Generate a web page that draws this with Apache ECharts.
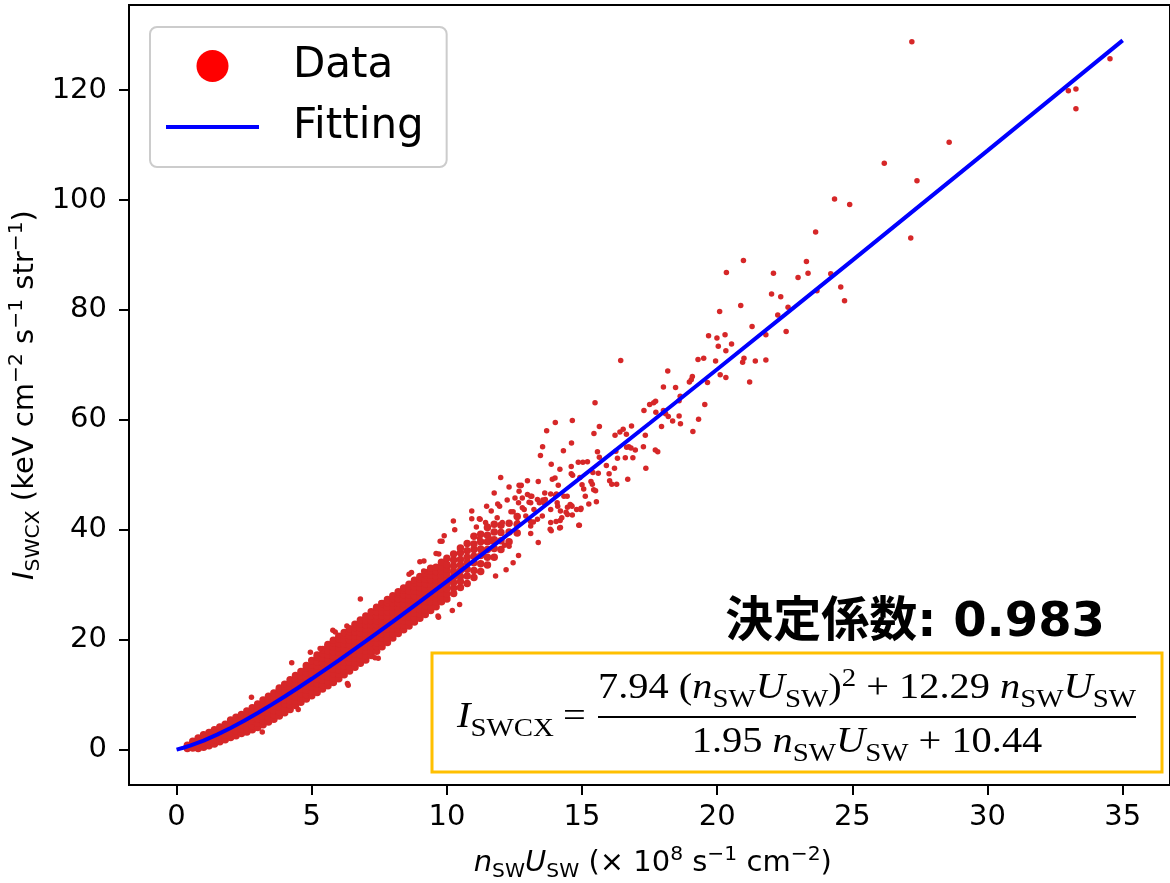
<!DOCTYPE html>
<html>
<head>
<meta charset="utf-8">
<script src="https://cdn.jsdelivr.net/npm/echarts@6/dist/echarts.min.js"></script>
<style>
  html, body { margin: 0; padding: 0; background: #ffffff; }
  #chart { width: 1170px; height: 883px; }
</style>
</head>
<body>
<div id="chart"></div>
<script>
// ---- axis ticks ----
const xTicks = [0, 5, 10, 15, 20, 25, 30, 35];
const yTicks = [0, 20, 40, 60, 80, 100, 120];

// ---- fitted curve, sampled along n_SW U_SW ----
const fitX = [0, 0.25, 0.5, 1, 1.5, 2, 2.5, 3, 3.5, 4, 4.5, 5, 6, 7, 8, 9, 10, 11, 12, 13, 15, 17.5, 20, 22.5, 25, 30, 35];
const fitY = [0, 0.33, 0.71, 1.63, 2.72, 3.93, 5.25, 6.65, 8.13, 9.66, 11.25, 12.88, 16.24, 19.72, 23.29, 26.93, 30.62, 34.37, 38.15, 41.96, 49.66, 59.39, 69.21, 79.10, 89.03, 109.0, 129.07];

// ---- dense core of the measurements, column by column: [x, [y, ...]] ----
const coreColumns = [
  [0.4, [0.2, 0.8]],
  [0.6, [0.3, 1.0, 1.5]],
  [0.8, [0.2, 1.0, 1.8, 2.1]],
  [1.0, [0.4, 1.2, 2.0, 2.7]],
  [1.2, [0.7, 1.5, 2.3, 3.1]],
  [1.4, [1.0, 1.8, 2.6, 3.4, 3.6]],
  [1.6, [1.4, 2.2, 3.0, 3.8, 4.1]],
  [1.8, [1.8, 2.6, 3.4, 4.2, 4.6]],
  [2.0, [2.2, 3.0, 3.8, 4.6, 5.4]],
  [2.2, [2.5, 3.4, 4.2, 5.0, 5.9]],
  [2.4, [2.9, 3.7, 4.5, 5.3, 6.1, 6.4]],
  [2.6, [3.2, 4.0, 4.8, 5.6, 6.4, 7.0]],
  [2.8, [3.6, 4.4, 5.2, 6.0, 6.8, 7.6]],
  [3.0, [4.0, 4.8, 5.6, 6.4, 7.2, 8.0, 8.3]],
  [3.2, [4.5, 5.3, 6.1, 6.9, 7.7, 8.5, 9.0]],
  [3.4, [5.0, 5.8, 6.6, 7.4, 8.2, 9.0, 9.7]],
  [3.6, [5.5, 6.3, 7.1, 7.9, 8.7, 9.5, 10.3]],
  [3.8, [6.1, 6.9, 7.7, 8.5, 9.3, 10.1, 10.9, 11.2]],
  [4.0, [6.7, 7.5, 8.3, 9.1, 9.9, 10.7, 11.5, 11.9]],
  [4.2, [7.3, 8.1, 8.9, 9.7, 10.5, 11.3, 12.1, 12.7]],
  [4.4, [8.0, 8.8, 9.6, 10.4, 11.2, 12.0, 12.8, 13.5]],
  [4.6, [8.6, 9.4, 10.2, 11.0, 11.8, 12.6, 13.4, 14.2]],
  [4.8, [9.2, 10.0, 10.8, 11.6, 12.4, 13.2, 14.0, 14.8, 15.3]],
  [5.0, [9.8, 10.6, 11.4, 12.2, 13.0, 13.8, 14.6, 15.4, 16.2]],
  [5.2, [10.4, 11.2, 12.0, 12.8, 13.6, 14.4, 15.2, 16.0, 16.8, 17.2]],
  [5.4, [11.0, 11.8, 12.6, 13.4, 14.2, 15.0, 15.8, 16.6, 17.4, 18.2]],
  [5.6, [11.6, 12.4, 13.2, 14.0, 14.8, 15.6, 16.4, 17.2, 18.0, 18.8, 19.1]],
  [5.8, [12.2, 13.0, 13.8, 14.6, 15.4, 16.2, 17.0, 17.8, 18.6, 19.4, 19.9]],
  [6.0, [12.9, 13.7, 14.5, 15.3, 16.1, 16.9, 17.7, 18.5, 19.3, 20.1, 20.6]],
  [6.2, [13.6, 14.4, 15.2, 16.0, 16.8, 17.6, 18.4, 19.2, 20.0, 20.8, 21.3]],
  [6.4, [14.3, 15.1, 15.9, 16.7, 17.5, 18.3, 19.1, 19.9, 20.7, 21.5, 22.0]],
  [6.6, [15.0, 15.8, 16.6, 17.4, 18.2, 19.0, 19.8, 20.6, 21.4, 22.2, 22.8]],
  [6.8, [15.7, 16.5, 17.3, 18.1, 18.9, 19.7, 20.5, 21.3, 22.1, 22.9, 23.6]],
  [7.0, [16.3, 17.1, 17.9, 18.7, 19.5, 20.3, 21.1, 21.9, 22.7, 23.5, 24.3]],
  [7.2, [17.1, 17.9, 18.7, 19.5, 20.3, 21.1, 21.9, 22.7, 23.5, 24.3, 25.1]],
  [7.4, [17.9, 18.7, 19.5, 20.3, 21.1, 21.9, 22.7, 23.5, 24.3, 25.1, 25.9]],
  [7.6, [18.7, 19.5, 20.3, 21.1, 21.9, 22.7, 23.5, 24.3, 25.1, 25.9, 26.6]],
  [7.8, [19.5, 20.3, 21.1, 21.9, 22.7, 23.5, 24.3, 25.1, 25.9, 26.7, 27.3]],
  [8.0, [20.3, 21.1, 21.9, 22.7, 23.5, 24.3, 25.1, 25.9, 26.7, 27.5, 28.0]],
  [8.2, [21.1, 21.9, 22.7, 23.5, 24.3, 25.1, 25.9, 26.7, 27.5, 28.3, 28.7]],
  [8.4, [21.8, 22.6, 23.4, 24.2, 25.0, 25.8, 26.6, 27.4, 28.2, 29.0, 29.4]],
  [8.6, [22.5, 23.3, 24.1, 24.9, 25.7, 26.5, 27.3, 28.1, 28.9, 29.7, 30.1]],
  [8.8, [23.2, 24.0, 24.8, 25.6, 26.4, 27.2, 28.0, 28.8, 29.6, 30.4, 30.8]],
  [9.0, [23.9, 24.7, 25.5, 26.3, 27.1, 27.9, 28.7, 29.5, 30.3, 31.1, 31.5]],
  [9.2, [24.6, 25.4, 26.2, 27.0, 27.8, 28.6, 29.4, 30.2, 31.0, 31.8, 32.2]],
  [9.4, [25.3, 26.1, 26.9, 27.7, 28.5, 29.3, 30.1, 30.9, 31.7, 32.5, 33.0]],
  [9.6, [26.0, 26.8, 27.6, 28.4, 29.2, 30.0, 30.8, 31.6, 32.4, 33.2]],
  [9.8, [26.9, 27.7, 28.5, 29.3, 30.1, 30.9, 31.7, 32.5, 33.3, 34.1]],
  [10.0, [27.4, 28.3, 29.2, 30.1, 31.0, 31.9, 32.8, 33.7, 34.8]],
  [10.25, [28.4, 29.4, 30.4, 31.4, 32.4, 33.4, 34.5, 35.6]],
  [10.5, [29.5, 30.6, 31.5, 32.6, 33.6, 34.6, 35.8, 36.7]],
  [10.75, [30.2, 31.6, 32.8, 34.0, 35.0, 36.2, 37.5]],
  [11.0, [31.3, 32.6, 34.0, 35.2, 36.4, 37.4, 38.8]],
  [11.25, [32.4, 33.8, 35.3, 36.5, 37.8, 39.2]],
  [11.5, [33.6, 35.0, 36.4, 37.8, 39.0, 40.4]],
  [11.75, [35.0, 36.6, 38.2, 39.6, 41.0]],
  [12.0, [36.4, 38.0, 39.5, 40.8]],
  [12.3, [37.8, 39.6, 41.2]],
  [12.6, [39.4, 41.0, 42.4]]
];

// ---- individually visible measurements: [x, y] ----
const spreadPoints = [
  [2.77, 9.5], [4.26, 15.8], [4.95, 17.7], [5.31, 18.4], [5.78, 21.7], [5.87, 21.4], [6.3, 22.5],
  [6.32, 12.0], [6.35, 11.7], [4.5, 7.3], [3.17, 3.2], [7.46, 16.6], [7.34, 16.7], [9.69, 24.1],
  [6.8, 27.4], [7.56, 26.7], [8.69, 32.2], [8.6, 31.9], [9.0, 34.2], [9.15, 34.3], [9.14, 32.5],
  [9.6, 35.7], [9.7, 35.6], [9.9, 38.9], [9.82, 37.9], [9.75, 37.9],
  [10.2, 25.3], [10.47, 26.4], [9.67, 24.3],
  [10.24, 41.6], [10.29, 40.0], [10.92, 43.4], [10.92, 42.0], [11.09, 40.5], [11.23, 41.9], [11.2, 42.0],
  [11.43, 41.3], [11.5, 40.7], [11.86, 42.2], [12.05, 41.3], [11.21, 38.4], [11.24, 37.9],
  [11.63, 38.3], [11.66, 37.8], [12.13, 37.2], [12.3, 37.0], [12.65, 35.3], [12.19, 32.7], [12.45, 34.0], [11.8, 31.6],
  [11.99, 49.5], [11.75, 46.7], [11.88, 44.7], [11.95, 44.3], [11.47, 44.3], [11.64, 43.4],
  [12.3, 47.8], [12.67, 48.1], [12.75, 48.1], [12.67, 47.0], [12.98, 46.4], [13.14, 46.1], [12.52, 45.8],
  [12.23, 45.4], [12.37, 43.3], [12.45, 43.3], [12.65, 44.9], [12.79, 44.0], [13.04, 45.0], [13.1, 44.9],
  [13.42, 44.9], [13.62, 46.7], [14.05, 46.5], [12.73, 48.0], [13.1, 46.1], [12.86, 43.7], [13.22, 43.7],
  [13.59, 44.9], [13.84, 43.7], [13.35, 41.9], [13.1, 40.7], [13.84, 41.3], [13.53, 42.5], [14.08, 44.9],
  [14.2, 43.4], [14.6, 44.4], [15.06, 47.4], [15.12, 46.1], [14.45, 46.1], [13.35, 45.5], [12.79, 45.8],
  [12.61, 41.3], [12.92, 42.5], [14.56, 44.6], [14.63, 44.3], [14.1, 44.3], [14.41, 43.2], [14.46, 42.8],
  [14.96, 43.9], [14.19, 41.7], [14.17, 40.3], [14.88, 40.8], [13.82, 40.1], [13.86, 39.8], [13.38, 37.7],
  [13.1, 39.3], [13.09, 41.5], [13.2, 41.4], [13.9, 49.2], [14.0, 49.4],
  [12.98, 48.9], [13.38, 48.8], [13.64, 45.5], [13.55, 45.4],
  [14.12, 48.1], [13.84, 46.5], [14.02, 46.3], [14.33, 46.1], [14.46, 44.1], [14.8, 43.7], [14.95, 43.7],
  [15.25, 44.7], [15.53, 45.1], [14.9, 40.8], [14.64, 42.7], [14.25, 42.2], [14.04, 41.5], [14.2, 40.4],
  [13.86, 51.9], [14.18, 51.0], [14.6, 51.5], [14.86, 52.3], [15.03, 52.3], [15.2, 52.4], [15.4, 50.4],
  [15.6, 50.3], [14.6, 50.2], [14.65, 49.9], [14.92, 49.5], [15.33, 48.8], [15.38, 48.3], [15.43, 47.3],
  [15.5, 47.1], [15.0, 48.2], [16.02, 48.9], [16.1, 48.3], [16.28, 48.3], [16.69, 49.2],
  [17.36, 51.2], [16.2, 51.2], [16.0, 50.2], [15.9, 51.7],
  [14.61, 55.8], [14.31, 54.4], [13.54, 55.1], [13.46, 53.5], [15.57, 54.2], [15.64, 53.2], [16.25, 54.3],
  [16.31, 53.0], [16.65, 55.0], [16.73, 55.1], [16.81, 54.9], [16.97, 54.5], [16.6, 53.1], [16.88, 53.1],
  [17.27, 55.1], [17.71, 54.5], [17.8, 54.2],
  [15.48, 63.1], [16.83, 58.9], [16.52, 58.3], [16.4, 57.8], [16.22, 57.2], [16.64, 57.4], [17.34, 57.2],
  [15.44, 57.5], [15.64, 58.8], [14.64, 59.9], [14.01, 59.5], [13.69, 58.0],
  [16.43, 70.8], [18.17, 68.9], [19.08, 67.9], [18.97, 66.9], [19.04, 67.3], [19.64, 66.8], [20.11, 68.2],
  [20.32, 67.7], [21.2, 66.9], [18.01, 66.0], [18.46, 65.9], [18.63, 64.3], [18.59, 63.5], [17.72, 63.4],
  [17.65, 63.1], [17.5, 62.8], [17.29, 61.7], [18.01, 61.7], [17.73, 61.4], [18.06, 61.4], [18.09, 61.1],
  [18.19, 60.6], [18.59, 60.7], [18.35, 59.8], [18.64, 59.3], [17.94, 58.8], [19.54, 62.8], [19.31, 60.1],
  [19.1, 57.9],
  [19.29, 71.0], [19.5, 71.2], [19.94, 70.7], [20.99, 71.2], [20.94, 70.5], [21.41, 70.7], [21.8, 70.9],
  [20.04, 73.4], [20.53, 73.8], [20.32, 72.6], [19.68, 75.3], [19.99, 74.9], [20.29, 75.5],
  [21.29, 77.0], [22.55, 76.1], [21.8, 75.5], [20.09, 79.7], [22.24, 79.1], [20.87, 80.8], [22.62, 80.5],
  [22.01, 82.9], [22.35, 82.4], [23.69, 83.5], [24.57, 84.2], [24.71, 81.7],
  [20.97, 89.0], [20.34, 86.8], [22.08, 86.7], [23.3, 88.8], [23.36, 86.7], [22.99, 85.9], [24.2, 86.6],
  [23.64, 94.2], [27.16, 93.1], [24.34, 100.2], [24.9, 99.2], [26.18, 106.7], [27.39, 103.5],
  [28.58, 110.5], [27.2, 128.8], [34.53, 125.7], [32.99, 119.9], [33.27, 120.2], [33.27, 116.6]
];

const coreData = coreColumns.flatMap(([x, ys]) => ys.map(y => [x, y]));
const fitData = fitX.map((x, i) => [x, fitY[i]]);

// ---- text layout helpers for sub/superscripted labels ----
const measureCtx = document.createElement('canvas').getContext('2d');
function textWidth(font, s) {
  measureCtx.font = font;
  measureCtx.textBaseline = 'alphabetic';
  return measureCtx.measureText(s).width;
}
// distance from the 'middle' line down to the alphabetic baseline
function middleToBaseline(font) {
  measureCtx.font = font;
  measureCtx.textBaseline = 'middle';
  const d = measureCtx.measureText('H').actualBoundingBoxDescent;
  measureCtx.textBaseline = 'alphabetic';
  return d;
}
// runs: [text, font, baselineShift]; returns children laid out from x = 0
function layoutRuns(runs, baseline, z) {
  let x = 0;
  const children = [];
  runs.forEach(([t, font, shift]) => {
    const w = textWidth(font, t);
    children.push({
      type: 'text',
      x: x,
      y: baseline + (shift || 0) - middleToBaseline(font),
      z: z || 0,
      silent: true,
      style: {
        text: t, font: font, fill: '#000000',
        align: 'left', verticalAlign: 'middle',
        textAlign: 'left', textVerticalAlign: 'middle'
      }
    });
    x += w;
  });
  return { children, width: x };
}

const SANS = '"DejaVu Sans"';
const F_MAIN = '29px ' + SANS;
const F_IT = 'italic 29px ' + SANS;
const F_SMALL = '20.3px ' + SANS;
const SUB = 6, SUP = -11;

// y-axis title (rotated)
const yTitle = layoutRuns([
  ['I', F_IT], ['SWCX', F_SMALL, SUB], [' (keV cm', F_MAIN], ['\u22122', F_SMALL, SUP],
  [' s', F_MAIN], ['\u22121', F_SMALL, SUP], [' str', F_MAIN], ['\u22121', F_SMALL, SUP], [')', F_MAIN]
], 0);
yTitle.children.forEach(c => { c.x -= yTitle.width / 2; });

// x-axis title
const xTitle = layoutRuns([
  ['n', F_IT], ['SW', F_SMALL, SUB], ['U', F_IT], ['SW', F_SMALL, SUB], [' (\u00d7 10', F_MAIN],
  ['8', F_SMALL, SUP], [' s', F_MAIN], ['\u22121', F_SMALL, SUP], [' cm', F_MAIN], ['\u22122', F_SMALL, SUP], [')', F_MAIN]
], 871);

// coefficient of determination
const F_R2 = 'bold 48px "DejaVu Sans", "Noto Sans CJK JP"';
const r2Text = layoutRuns([['決定係数: 0.983', F_R2]], 636);

// fitted formula
const SERIF = '"Liberation Serif", "DejaVu Serif", serif';
const M_R = '35px ' + SERIF, M_I = 'italic 35px ' + SERIF, M_S = '25px ' + SERIF;
const FZ = 12;
const numer = layoutRuns([
  ['7.94 ', M_R], ['(', M_R], ['n', M_I], ['SW', M_S, 9], ['U', M_I], ['SW', M_S, 9], [')', M_R],
  ['2', M_S, -12], [' + 12.29 ', M_R], ['n', M_I], ['SW', M_S, 9], ['U', M_I], ['SW', M_S, 9]
], 698, FZ);
const denom = layoutRuns([
  ['1.95 ', M_R], ['n', M_I], ['SW', M_S, 9], ['U', M_I], ['SW', M_S, 9], [' + 10.44', M_R]
], 752, FZ);
const lhs = layoutRuns([['I', M_I], ['SWCX', M_S, 9]], 727, FZ);
const eqSign = layoutRuns([['=', M_R]], 727, FZ);
const barLeft = 598, barRight = 1136, barMid = (barLeft + barRight) / 2;
const kx = (barRight - barLeft) / numer.width;

const chart = echarts.init(document.getElementById('chart'), null, { renderer: 'canvas' });

const axisLabelStyle = { fontFamily: 'DejaVu Sans', fontSize: 29, color: '#000000' };

chart.setOption({
  animation: false,
  backgroundColor: '#ffffff',
  grid: {
    left: 129, top: 5, width: 1048, height: 780,
    show: true, borderColor: '#000000', borderWidth: 2, backgroundColor: 'transparent'
  },
  xAxis: {
    type: 'value', min: -1.76, max: 36.75,
    axisLine: { show: true, onZero: false, lineStyle: { color: '#000000', width: 2 } },
    axisTick: { show: true, length: 10, customValues: xTicks, lineStyle: { color: '#000000', width: 2 } },
    axisLabel: Object.assign({ margin: 18, customValues: xTicks, formatter: v => String(v) }, axisLabelStyle),
    splitLine: { show: false }
  },
  yAxis: {
    type: 'value', min: -6.45, max: 135.5,
    axisLine: { show: true, onZero: false, lineStyle: { color: '#000000', width: 2 } },
    axisTick: { show: true, length: 10, customValues: yTicks, lineStyle: { color: '#000000', width: 2 } },
    axisLabel: Object.assign({ margin: 22, customValues: yTicks, formatter: v => String(v) }, axisLabelStyle),
    splitLine: { show: false }
  },
  legend: {
    orient: 'vertical', left: 150, top: 27,
    padding: [18, 23, 19, 16],
    itemGap: 19, itemWidth: 93, itemHeight: 32,
    selectedMode: false,
    backgroundColor: 'rgba(255,255,255,0.8)',
    borderColor: '#cccccc', borderWidth: 2, borderRadius: 7,
    textStyle: { fontFamily: 'DejaVu Sans', fontSize: 42, color: '#000000', padding: [0, 0, 0, 29] },
    data: [
      { name: 'Data', icon: 'circle', itemStyle: { color: '#ff0000', borderWidth: 0 } },
      { name: 'Fitting', icon: 'path://M0,0H93V4H0Z', itemStyle: { color: '#0000ff', borderWidth: 0 } }
    ]
  },
  series: [
    {
      // densely packed measurements near the curve
      name: 'Data', type: 'scatter', data: coreData,
      symbol: 'circle', symbolSize: 7.5,
      itemStyle: { color: '#d62728', opacity: 1 },
      emphasis: { disabled: true }, silent: true, z: 2
    },
    {
      name: 'Data', type: 'scatter', data: spreadPoints,
      symbol: 'circle', symbolSize: 5.5,
      itemStyle: { color: '#d62728', opacity: 1 },
      emphasis: { disabled: true }, silent: true, z: 2
    },
    {
      name: 'Fitting', type: 'line', data: fitData,
      showSymbol: false, symbol: 'none', smooth: false,
      color: '#0000ff',
      lineStyle: { color: '#0000ff', width: 4 },
      emphasis: { disabled: true }, silent: true, z: 3
    }
  ],
  graphic: {
    elements: [
      { type: 'group', x: 33, y: 395, rotation: Math.PI / 2, children: yTitle.children },
      { type: 'group', x: 652.8 - xTitle.width / 2, y: 0, children: xTitle.children },
      { type: 'group', x: 1105 - r2Text.width, y: 0, children: r2Text.children },
      {
        type: 'rect', z: 10,
        shape: { x: 432, y: 653, width: 730, height: 119 },
        style: { fill: '#ffffff', stroke: '#ffc000', lineWidth: 3 }
      },
      { type: 'group', x: barLeft, y: 0, scaleX: kx, children: numer.children },
      { type: 'group', x: barMid - kx * denom.width / 2, y: 0, scaleX: kx, children: denom.children },
      { type: 'group', x: 457, y: 0, scaleX: kx, children: lhs.children },
      { type: 'group', x: 563, y: 0, scaleX: kx, children: eqSign.children },
      {
        type: 'line', z: FZ,
        shape: { x1: barLeft, y1: 717, x2: barRight, y2: 717 },
        style: { stroke: '#000000', lineWidth: 2 }
      }
    ]
  }
});
</script>
</body>
</html>
